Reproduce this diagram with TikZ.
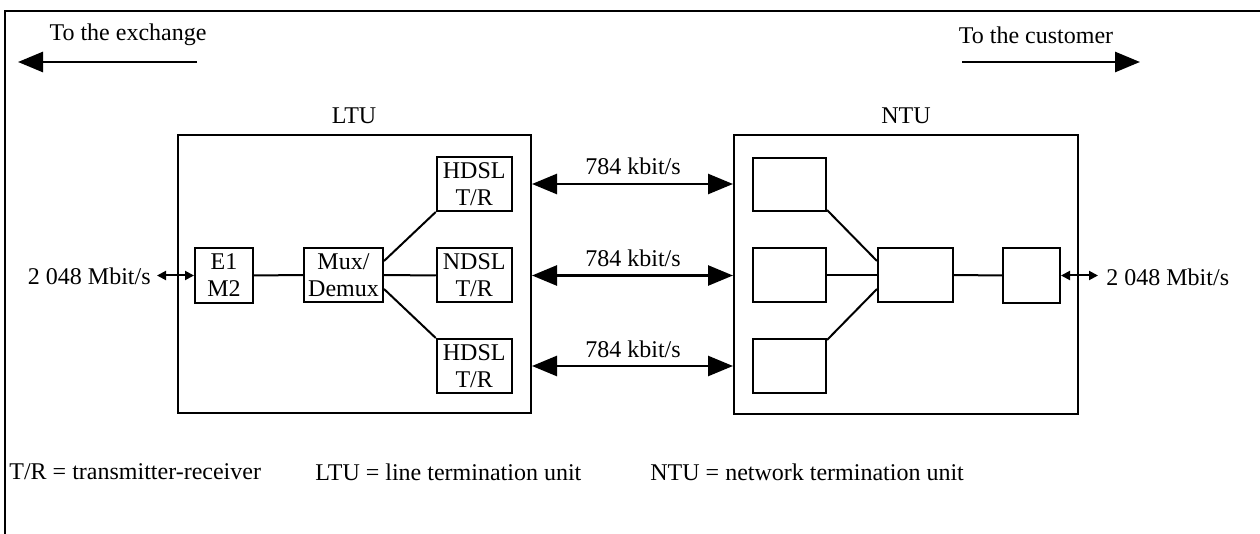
\documentclass[tikz,border=0pt]{standalone}
\usepackage{fontspec}
\setmainfont{Liberation Serif}
\usetikzlibrary{arrows.meta}
\begin{document}
\begin{tikzpicture}[x=0.5pt,y=-0.5pt,
  box/.style={draw,line width=1pt,inner sep=0pt,align=center,font=\fontsize{12}{13.5}\selectfont},
  frame/.style={draw,line width=1pt,inner sep=0pt},
  lbl/.style={inner sep=0pt,font=\fontsize{12}{14}\selectfont},
  conn/.style={line width=1pt},
  big/.style={line width=1.4pt,-{Triangle[length=12.5pt,width=10pt]}},
  bidir/.style={line width=1.3pt,{Triangle[length=12.5pt,width=10pt]}-{Triangle[length=12.5pt,width=10pt]}},
  small/.style={line width=1pt,{Triangle[length=4.5pt,width=4.5pt]}-{Triangle[length=4.5pt,width=4.5pt]}}]
\useasboundingbox (0,0) rectangle (1260,534);
\draw[line width=1pt] (5,536) -- (5,11) -- (1262,11);

% top direction arrows
\node[lbl] (exch) at (128,35) {To the exchange};
\coordinate (exA) at (197,62);
\coordinate (exB) at (18,62);
\draw[big] (exA) -- (exB);
\node[lbl] (cust) at (1036,35) {To the customer};
\coordinate (cuA) at (962,62);
\coordinate (cuB) at (1140,62);
\draw[big] (cuA) -- (cuB);

% LTU
\node[frame,minimum width=176.5pt,minimum height=139pt] (ltu) at (354.5,274.5) {};
\node[lbl] (ltul) at (354,116) {LTU};
\node[box,minimum width=29pt,minimum height=27.5pt] (e1) at (224,275.5) {E1\\M2};
\node[box,minimum width=39.5pt,minimum height=27pt] (mux) at (343.5,275) {Mux/\\Demux};
\node[box,minimum width=37.5pt,minimum height=27pt] (h1) at (474.25,184) {HDSL\\T/R};
\node[box,minimum width=37.5pt,minimum height=27pt] (n1) at (474.25,275.5) {NDSL\\T/R};
\node[box,minimum width=37.5pt,minimum height=27pt] (h2) at (474.25,366) {HDSL\\T/R};
\draw[conn] (e1.east) -- (mux.west);
\draw[conn] ([yshift=7pt]mux.east) -- (h1.south west);
\draw[conn] (mux.east) -- (n1.west);
\draw[conn] ([yshift=-7pt]mux.east) -- (h2.north west);

% NTU
\node[frame,minimum width=172pt,minimum height=139.5pt] (ntu) at (906,274.75) {};
\node[lbl] (ntul) at (906,116) {NTU};
\node[box,minimum width=36.5pt,minimum height=26.5pt] (b1) at (789.5,184.5) {};
\node[box,minimum width=36.5pt,minimum height=27pt] (b2) at (789.5,275) {};
\node[box,minimum width=36.5pt,minimum height=27pt] (b3) at (789.5,366) {};
\node[box,minimum width=37.5pt,minimum height=27pt] (bm) at (915.5,275) {};
\node[box,minimum width=28.5pt,minimum height=27.5pt] (br) at (1031.5,275.5) {};
\draw[conn] ([yshift=1pt]b1.south east) -- ([yshift=7pt]bm.west);
\draw[conn] (b2.east) -- (bm.west);
\draw[conn] ([yshift=-1pt]b3.north east) -- ([yshift=-7pt]bm.west);
\draw[conn] (bm.east) -- (br.west);

% line arrows
\draw[bidir] (ltu.east |- h1) -- (ntu.west |- h1);
\draw[bidir] (ltu.east |- n1) -- (ntu.west |- n1);
\draw[bidir] (ltu.east |- h2) -- (ntu.west |- h2);
\node[lbl] (r1) at (633,166) {784 kbit/s};
\node[lbl] (r2) at (633,258) {784 kbit/s};
\node[lbl] (r3) at (633,349) {784 kbit/s};

% 2 048 Mbit/s
\node[lbl,anchor=east] (inl) at (151,276) {2 048 Mbit/s};
\coordinate (inA) at (157,275.5);
\draw[small] (inA) -- (e1.west);
\node[lbl,anchor=west] (outl) at (1106,277) {2 048 Mbit/s};
\coordinate (outA) at (1098,275.5);
\draw[small] (br.east) -- (outA);

% legend
\node[lbl,anchor=west] (lg1) at (9,472) {T/R = transmitter-receiver};
\node[lbl,anchor=west] (lg2) at (315,472) {LTU = line termination unit};
\node[lbl,anchor=west] (lg3) at (650,472) {NTU = network termination unit};
\end{tikzpicture}
\end{document}
